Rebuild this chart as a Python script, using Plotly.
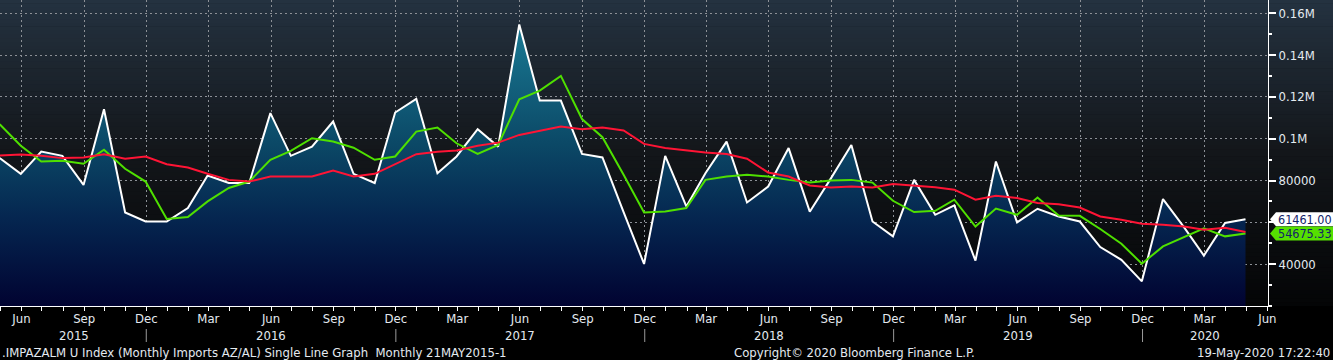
import plotly.graph_objects as go
import pandas as pd

# ---------------- data ----------------
start_month = "2015-05-01"
n_points = 61
dates = list(pd.date_range(start_month, periods=n_points, freq="MS") - pd.Timedelta(days=1))

imports = [90700, 83200, 93800, 91800, 77900, 114100, 64700, 60400, 60400, 66800, 82400,
           78800, 78800, 112200, 91800, 96200, 108200, 83200, 78800, 112500, 119000, 83500,
           91500, 104500, 96200, 154600, 118200, 118200, 92700, 91000, 64900, 40100, 91800,
           67600, 83500, 98600, 69500, 77100, 95500, 65100, 81000, 97000, 60400,
           53300, 80300, 63600, 68100, 41700, 89100, 60000, 66500, 62800, 60400, 48200,
           42100, 31800, 71100, 57600, 44100, 59700, 61461]

ma_short = [106900, 96600, 89100, 89400, 88000, 94700, 85600, 79500, 61600, 62500, 70000,
            76400, 79500, 89900, 94200, 100200, 98600, 95700, 89900, 91500, 103400, 105300,
            97800, 92700, 97000, 118800, 123000, 130000, 109400, 100700, 82700, 64700, 65200,
            66800, 80300, 81900, 82700, 81900, 80300, 79000, 80000, 80300, 79000,
            70300, 64900, 65500, 70800, 58000, 66600, 63600, 71900, 63300, 63100, 56800,
            49800, 40200, 48500, 53000, 57100, 53300, 54675.33]

ma_long = [91900, 92400, 91800, 90700, 91000, 92600, 90400, 91500, 87800, 86200, 83200,
           80300, 79500, 81900, 81900, 81900, 84800, 81900, 83200, 87800, 92600, 93800,
           94300, 96600, 98100, 101800, 103900, 105800, 104500, 105300, 103900, 97500, 95500,
           94300, 93400, 92700, 90400, 83800, 81900, 77600, 76700, 77100, 76700,
           78300, 77600, 76800, 75600, 70800, 72700, 71600, 69200, 68700, 67100, 62800,
           61200, 59300, 58900, 58000, 56500, 57400, 55400]

last_white_label = "61461.00"
last_green_label = "54675.33"
last_white_value = 61461
last_green_value = 54675.33

# the 60000 label is hidden behind the last-value boxes in the original
y_tickvals = [40000, 60000, 80000, 100000, 120000, 140000, 160000]
y_ticktext = ["40000", "", "80000", "0.1M", "0.12M", "0.14M", "0.16M"]

year_labels = ["2015", "2016", "2017", "2018", "2019", "2020"]
year_label_dates = ["2015-08-17", "2016-06-01", "2017-06-01", "2018-06-01", "2019-06-01", "2020-03-01"]
year_sep_dates = ["2015-12-01", "2016-12-01", "2017-12-01", "2018-12-01", "2019-12-01"]

footer_left = ".IMPAZALM U Index (Monthly Imports AZ/AL) Single Line Graph  Monthly 21MAY2015-1"
footer_mid = "Copyright\u00a9 2020 Bloomberg Finance L.P."
footer_right = "19-May-2020 17:22:40"

# ---------------- layout constants ----------------
W, H = 1333, 360
ML, MR, MT, MB = 0, 65, 0, 54
PW = W - ML - MR
PH = H - MT - MB
FONT = "Liberation Sans Narrow, DejaVu Sans Condensed, Arial Narrow, sans-serif"
TXT = "#e4eaf0"

def px2paper_x(px):
    return (px - ML) / PW

def py2paper_y(py):
    return (MT + PH - py) / PH

fig = go.Figure()

# area under main series
fig.add_trace(go.Scatter(
    x=dates, y=imports, mode="lines", fill="tozeroy",
    line=dict(color="#ffffff", width=2),
    fillgradient=dict(type="vertical", start=20000, stop=160000,
                      colorscale=[[0, "#010331"], [0.3, "#052650"], [0.55, "#0b4866"],
                                  [1, "#1b7f98"]]),
    hoverinfo="skip", showlegend=False))

fig.add_trace(go.Scatter(x=dates, y=ma_short, mode="lines",
                         line=dict(color="#4fe000", width=2), showlegend=False))
fig.add_trace(go.Scatter(x=dates, y=ma_long, mode="lines",
                         line=dict(color="#ff1435", width=2), showlegend=False))

shapes = []
# background gradient bands
def lerp(c1, c2, t):
    return tuple(round(a + (b - a) * t) for a, b in zip(c1, c2))

top_c = (36, 50, 64)
mid_c = (19, 22, 26)
bot_c = (4, 5, 6)
n_bands = 80
for k in range(n_bands):
    y0 = k / n_bands
    y1 = (k + 1) / n_bands
    t = (y0 + y1) / 2  # 0 bottom, 1 top
    if t > 0.5:
        c = lerp(mid_c, top_c, (t - 0.5) / 0.5)
    else:
        c = lerp(bot_c, mid_c, t / 0.5)
    shapes.append(dict(type="rect", xref="paper", yref="paper", x0=0, x1=W / PW,
                       y0=y0, y1=y1 + 0.002, fillcolor="rgb(%d,%d,%d)" % c,
                       line=dict(width=0), layer="below"))

# year separators
for d in year_sep_dates:
    shapes.append(dict(type="line", xref="x", yref="paper", x0=d, x1=d,
                       y0=py2paper_y(329), y1=py2paper_y(342),
                       line=dict(color="#9a9a9a", width=1), layer="above"))

# last value boxes
half = 7 * (146300 / PH)
tip = px2paper_x(1270)
bx = px2paper_x(1276)
ex = px2paper_x(1334)
for val, col in [(last_white_value, "#ffffff"), (last_green_value, "#55e000")]:
    path = "M %f,%f L %f,%f L %f,%f L %f,%f L %f,%f Z" % (
        tip, val, bx, val + half, ex, val + half, ex, val - half, bx, val - half)
    shapes.append(dict(type="path", xref="paper", yref="y", path=path,
                       fillcolor=col, line=dict(width=0), layer="above"))

annotations = []
for val, txt in [(last_white_value, last_white_label), (last_green_value, last_green_label)]:
    annotations.append(dict(xref="paper", yref="y", x=px2paper_x(1277), y=val,
                            xanchor="left", yanchor="middle", text=txt, showarrow=False,
                            borderpad=0,
                            font=dict(family=FONT, size=12.5, color="#13236a")))

for d, t in zip(year_label_dates, year_labels):
    annotations.append(dict(xref="x", yref="paper", x=d, y=py2paper_y(335),
                            xanchor="center", yanchor="middle", text=t, showarrow=False,
                            borderpad=0,
                            font=dict(family=FONT, size=13, color=TXT)))

annotations.append(dict(xref="paper", yref="paper", x=px2paper_x(1), y=py2paper_y(352),
                        xanchor="left", yanchor="middle", text=footer_left, showarrow=False,
                        borderpad=0,
                        font=dict(family=FONT, size=13, color=TXT)))
annotations.append(dict(xref="paper", yref="paper", x=px2paper_x(854), y=py2paper_y(352),
                        xanchor="center", yanchor="middle", text=footer_mid, showarrow=False,
                        borderpad=0,
                        font=dict(family=FONT, size=13, color=TXT)))
annotations.append(dict(xref="paper", yref="paper", x=px2paper_x(1331), y=py2paper_y(352),
                        xanchor="right", yanchor="middle", text=footer_right, showarrow=False,
                        borderpad=0,
                        font=dict(family=FONT, size=13, color=TXT)))

fig.update_layout(
    width=W, height=H,
    margin=dict(l=ML, r=MR, t=MT, b=MB, pad=0, autoexpand=False),
    paper_bgcolor="#000000",
    plot_bgcolor="rgba(0,0,0,0)",
    showlegend=False,
    shapes=shapes,
    annotations=annotations,
    xaxis=dict(
        type="date", automargin=False,
        range=["2015-04-30 12:00", "2020-06-02"],
        tick0="2015-03-01", dtick="M3", tickformat="%b",
        ticks="outside", ticklen=4, tickcolor="#ffffff", tickwidth=1,
        ticklabelstandoff=-4,
        showline=True, linecolor="#ffffff", linewidth=1,
        showgrid=True, gridcolor="#8c9096", gridwidth=1, griddash="2px,3px",
        minor=dict(dtick="M1", tick0="2015-03-01", ticks="outside", ticklen=4,
                   tickcolor="#ffffff", showgrid=False),
        tickfont=dict(family=FONT, size=13, color=TXT),
        zeroline=False, fixedrange=True,
    ),
    yaxis=dict(
        side="right", automargin=False,
        range=[20000, 166300],
        tickvals=y_tickvals, ticktext=y_ticktext,
        ticks="outside", ticklen=7, tickwidth=2, tickcolor="#ffffff",
        showline=True, linecolor="#ffffff", linewidth=1,
        showgrid=True, gridcolor="#8c9096", gridwidth=1, griddash="2px,3px",
        minor=dict(dtick=10000, tick0=0, ticks="outside", ticklen=3, tickcolor="#ffffff",
                   showgrid=False),
        tickfont=dict(family=FONT, size=13, color=TXT),
        zeroline=False, fixedrange=True,
    ),
)

fig.write_html("out.html", config={"displayModeBar": False},
               post_script="document.body.style.margin='0px';document.body.style.overflow='hidden';")
